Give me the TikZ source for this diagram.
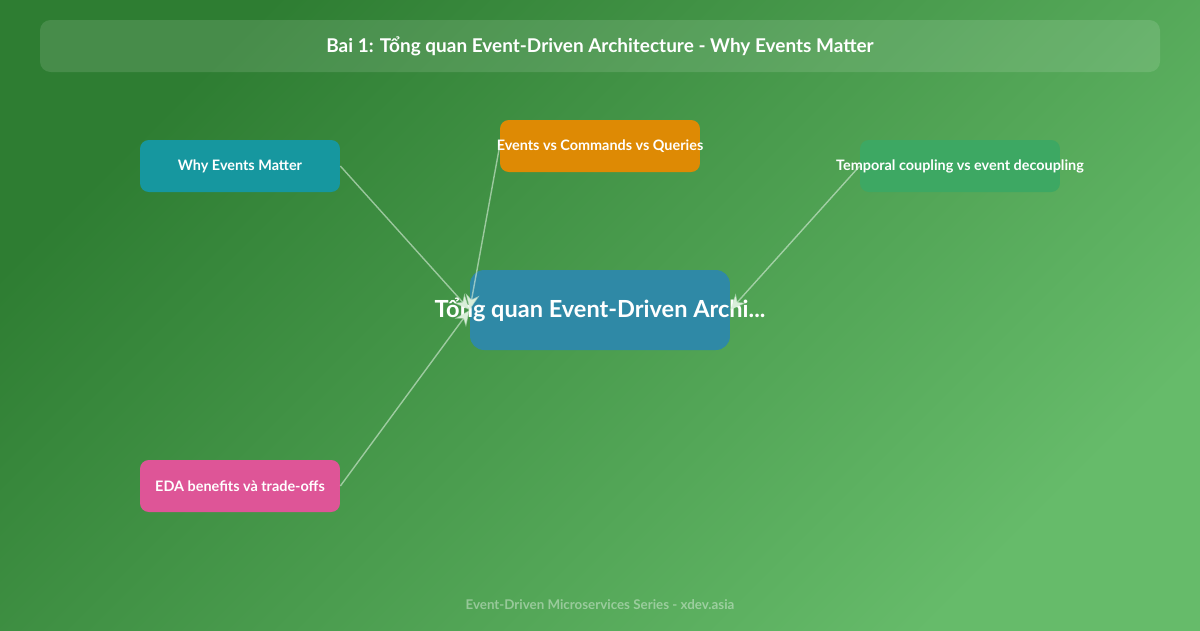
\documentclass[tikz,border=0pt]{standalone}
\usepackage{fontspec}
\setmainfont{Lato}
\usetikzlibrary{arrows.meta}
\definecolor{bgdark}{HTML}{2E7D32}
\definecolor{bglight}{HTML}{66BB6A}
\definecolor{cteal}{HTML}{16979F}
\definecolor{corange}{HTML}{DE8A04}
\definecolor{cgreen}{HTML}{3DA863}
\definecolor{cblue}{HTML}{2F89A6}
\definecolor{cpink}{HTML}{DE5597}
\newcommand{\wide}[1]{\makebox[0pt]{#1}}
\begin{document}
\begin{tikzpicture}[x=0.02cm,y=-0.02cm]
\tikzstyle{box}=[rounded corners=5pt, minimum width=4cm, minimum height=1.04cm, text=white, font=\bfseries\fontsize{8.2}{9}\selectfont, inner sep=0pt]
\tikzstyle{link}=[draw=white!75!bglight, draw opacity=0.6, line width=0.8pt, -{Stealth[length=9pt,width=8pt]}]
\shade[left color=bgdark, right color=bglight, shading angle=45] (0,0) rectangle (1200,630);
\useasboundingbox (0,0) rectangle (1200,630);
\fill[white, fill opacity=0.12, rounded corners=6pt] (40,20) rectangle (1160,72);
\node (title) at (600,46) [text=white, font=\bfseries\fontsize{10.8}{12}\selectfont] {Bai 1: Tổng quan Event-Driven Architecture - Why Events Matter};
\node (why) at (240,166) [box, fill=cteal] {\wide{Why Events Matter}};
\node (evc) at (600,146) [box, fill=corange] {\wide{Events vs Commands vs Queries}};
\node (temp) at (960,166) [box, fill=cgreen] {\wide{Temporal coupling vs event decoupling}};
\node (center) at (600,310) [box, fill=cblue, minimum width=5.2cm, minimum height=1.6cm, rounded corners=8pt, font=\bfseries\fontsize{13.4}{14}\selectfont] {\wide{Tổng quan Event-Driven Archi...}};
\node (eda) at (240,486) [box, fill=cpink] {\wide{EDA benefits và trade-offs}};
\draw[link] (why.east) -- (center.west);
\draw[link] (evc.west) -- (center.west);
\draw[link] (temp.west) -- (center.east);
\draw[link] (eda.east) -- (center.west);
\node (footer) at (600,605) [text=white, text opacity=0.4, font=\bfseries\fontsize{7.6}{9}\selectfont] {Event-Driven Microservices Series - xdev.asia};
\end{tikzpicture}
\end{document}
